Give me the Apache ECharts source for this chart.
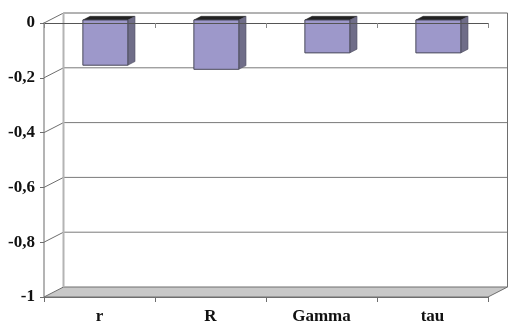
<!DOCTYPE html>
<html>
<head>
<meta charset="utf-8">
<script src="https://cdn.jsdelivr.net/npm/echarts@6/dist/echarts.min.js"></script>
<style>
  html, body { margin: 0; padding: 0; background: #ffffff; }
  #chart { width: 509px; height: 326px; }
</style>
</head>
<body>
<div id="chart"></div>
<script>
// Correlation coefficients per measure
const categories = ['r', 'R', 'Gamma', 'tau'];
const values = [-0.165, -0.18, -0.12, -0.12];
// Value-axis ticks
const yTicks = [-1, -0.8, -0.6, -0.4, -0.2, 0];

// Depth of the 3D box (pixels to the right / upwards)
const DX = 19.5, DY = 10;
const FONT = '"Liberation Serif", "Times New Roman", serif';

const chart = echarts.init(document.getElementById('chart'), null, { renderer: 'canvas' });

function fmt(v) {
  return String(+v.toFixed(2)).replace('.', ',');
}

// Walls, gridlines and floor of the 3D box
function renderWalls(params, api) {
  const cs = params.coordSys;
  const left = cs.x, right = cs.x + cs.width;
  const v = api.value(0);
  const y = api.coord([0, v])[1];
  const children = [];
  const yTop = api.coord([0, 0])[1];
  const yBot = api.coord([0, -1])[1];
  if (v === -1) {
    children.push({
      type: 'polygon',
      shape: { points: [[left, y], [right, y], [right + DX, y - DY], [left + DX, y - DY]] },
      style: { fill: '#c8c8c8', stroke: '#6e6e6e', lineWidth: 1 }
    });
  } else {
    children.push({
      type: 'line',
      shape: { x1: left + DX, y1: y - DY, x2: right + DX, y2: y - DY },
      style: { stroke: v === 0 ? '#666666' : '#7a7a7a', lineWidth: 1 }
    });
    children.push({
      type: 'line',
      shape: { x1: left, y1: y, x2: left + DX, y2: y - DY },
      style: { stroke: '#6e6e6e', lineWidth: 1 }
    });
  }
  if (v === 0) {
    // back wall edges
    children.push({
      type: 'line',
      shape: { x1: left + DX, y1: yTop - DY, x2: left + DX, y2: yBot - DY },
      style: { stroke: '#b4b4b4', lineWidth: 2 }
    });
    children.push({
      type: 'line',
      shape: { x1: right + DX, y1: yTop - DY, x2: right + DX, y2: yBot - DY },
      style: { stroke: '#6e6e6e', lineWidth: 1 }
    });
  }
  return { type: 'group', children: children };
}

// 3D bars hanging from zero
function renderBar(params, api) {
  const idx = api.value(0);
  const val = api.value(1);
  const p0 = api.coord([idx, 0]);
  const p1 = api.coord([idx, val]);
  const band = api.size([1, 0])[0];
  const w = band * 0.405;
  const fx = 0.3 * DX, fy = 0.3 * DY;
  const sx = 0.37 * DX, sy = 0.37 * DY;
  const x0 = p0[0] - w / 2 + fx;
  const x1 = x0 + w;
  const yT = p0[1] - fy;
  const yB = p1[1] - fy;
  return {
    type: 'group',
    children: [
      {
        type: 'polygon',
        shape: { points: [[x0, yT], [x1, yT], [x1 + sx, yT - sy], [x0 + sx, yT - sy]] },
        style: { fill: '#222222', stroke: '#222222', lineWidth: 0.5 }
      },
      {
        type: 'polygon',
        shape: { points: [[x1, yT], [x1 + sx, yT - sy], [x1 + sx, yB - sy], [x1, yB]] },
        style: { fill: '#6f6d88', stroke: '#4a4a5a', lineWidth: 0.5 }
      },
      {
        type: 'rect',
        shape: { x: x0, y: yT, width: w, height: yB - yT },
        style: { fill: '#9d98ca', stroke: '#4a4a5a', lineWidth: 1 }
      }
    ]
  };
}

const option = {
  animation: false,
  backgroundColor: '#ffffff',
  grid: { left: 44, right: 21, top: 23, bottom: 29 },
  xAxis: [
    {
      type: 'category',
      data: categories,
      position: 'bottom',
      boundaryGap: true,
      axisLine: { onZero: false, lineStyle: { color: '#6e6e6e', width: 1 } },
      axisTick: { show: true, length: 5, lineStyle: { color: '#6e6e6e' } },
      axisLabel: {
        margin: 11,
        color: '#111111',
        fontFamily: FONT,
        fontWeight: 'bold',
        fontSize: 17
      },
      splitLine: { show: false }
    },
    {
      type: 'category',
      data: categories,
      position: 'top',
      boundaryGap: true,
      z: 5,
      axisLine: { onZero: false, lineStyle: { color: '#555555', width: 1 } },
      axisTick: { show: true, inside: true, length: 5, lineStyle: { color: '#888888' } },
      axisLabel: { show: false },
      splitLine: { show: false }
    }
  ],
  yAxis: {
    type: 'value',
    min: -1,
    max: 0,
    interval: 0.2,
    axisLine: { show: true, lineStyle: { color: '#b4b4b4', width: 2 } },
    axisTick: { show: true, length: 4, lineStyle: { color: '#6e6e6e' } },
    axisLabel: {
      margin: 9,
      color: '#111111',
      fontFamily: FONT,
      fontWeight: 'bold',
      fontSize: 17,
      formatter: function (v) { return fmt(v); }
    },
    splitLine: { show: false }
  },
  series: [
    {
      type: 'custom',
      xAxisIndex: 0,
      yAxisIndex: 0,
      z: 1,
      silent: true,
      renderItem: renderWalls,
      data: yTicks.map(function (v) { return [v]; }),
      encode: { y: 0 }
    },
    {
      type: 'custom',
      xAxisIndex: 0,
      yAxisIndex: 0,
      z: 3,
      renderItem: renderBar,
      data: values.map(function (v, i) { return [i, v]; }),
      encode: { x: 0, y: 1 }
    }
  ]
};

chart.setOption(option);
</script>
</body>
</html>
